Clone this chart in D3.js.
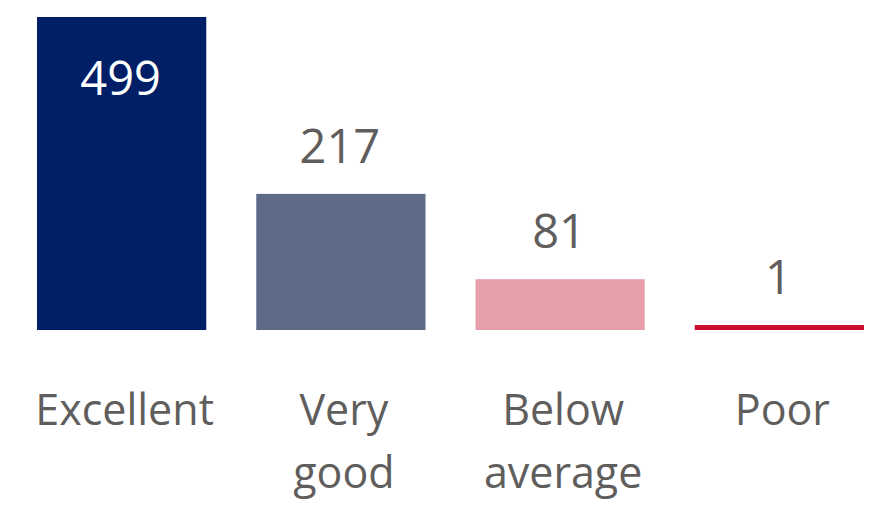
<!DOCTYPE html>
<html><head><meta charset="utf-8">
<script src="https://cdn.jsdelivr.net/npm/d3@7"></script>
<style>html,body{margin:0;padding:0;background:#fff;overflow:hidden}</style>
</head><body>
<svg id="chart" width="883" height="513"></svg>
<script>
const categories = ["Excellent", "Very good", "Below average", "Poor"];
const values = [499, 217, 81, 1];
const colors = ["#001F66", "#5E6B88", "#E79EAB", "#C8102E"];

const W = 883, H = 513;
const baseY = 330, topY = 17;
const svg = d3.select("#chart");
const font = "'Open Sans', 'Noto Sans', sans-serif";
const textColor = "#605E5C";

const x = d3.scaleBand().domain(categories).range([37, 864]).paddingInner(0.228).paddingOuter(0);
const y = d3.scaleLinear().domain([0, d3.max(values)]).range([baseY, topY]);
const minH = 5;

const data = categories.map((c, i) => ({c, v: values[i], col: colors[i]}));

svg.selectAll("rect.bar").data(data).join("rect")
  .attr("class", "bar")
  .attr("x", d => x(d.c))
  .attr("width", x.bandwidth())
  .attr("y", d => Math.min(y(d.v), baseY - minH))
  .attr("height", d => Math.max(baseY - y(d.v), minH))
  .attr("fill", d => d.col);

svg.selectAll("text.val").data(data).join("text")
  .attr("class", "val")
  .attr("x", d => x(d.c) + x.bandwidth() / 2 - 1)
  .attr("y", d => {
    const top = Math.min(y(d.v), baseY - minH);
    return top - 31 < 40 ? top + 78 : top - 31;
  })
  .attr("text-anchor", "middle")
  .attr("font-family", font)
  .attr("font-size", 47)
  .attr("fill", d => (Math.min(y(d.v), baseY - minH) - 31 < 40) ? "#FFFFFF" : textColor)
  .text(d => d.v);

// category labels with word wrap
const axisG = svg.append("g");
data.forEach(d => {
  const cx = x(d.c) + x.bandwidth() / 2 + 3;
  const t = axisG.append("text")
    .attr("text-anchor", "middle")
    .attr("font-family", font)
    .attr("font-size", 43)
    .attr("fill", textColor)
    .attr("x", cx)
    .attr("y", 425);
  const words = d.c.split(" ");
  let line = [];
  let ts = t.append("tspan").attr("x", cx).attr("dy", 0);
  words.forEach(w => {
    line.push(w);
    ts.text(line.join(" "));
    if (ts.node().getComputedTextLength() > x.bandwidth() + 10 && line.length > 1) {
      line.pop();
      ts.text(line.join(" "));
      line = [w];
      ts = t.append("tspan").attr("x", cx).attr("dy", 63).text(w);
    }
  });
});
</script>
</body></html>
